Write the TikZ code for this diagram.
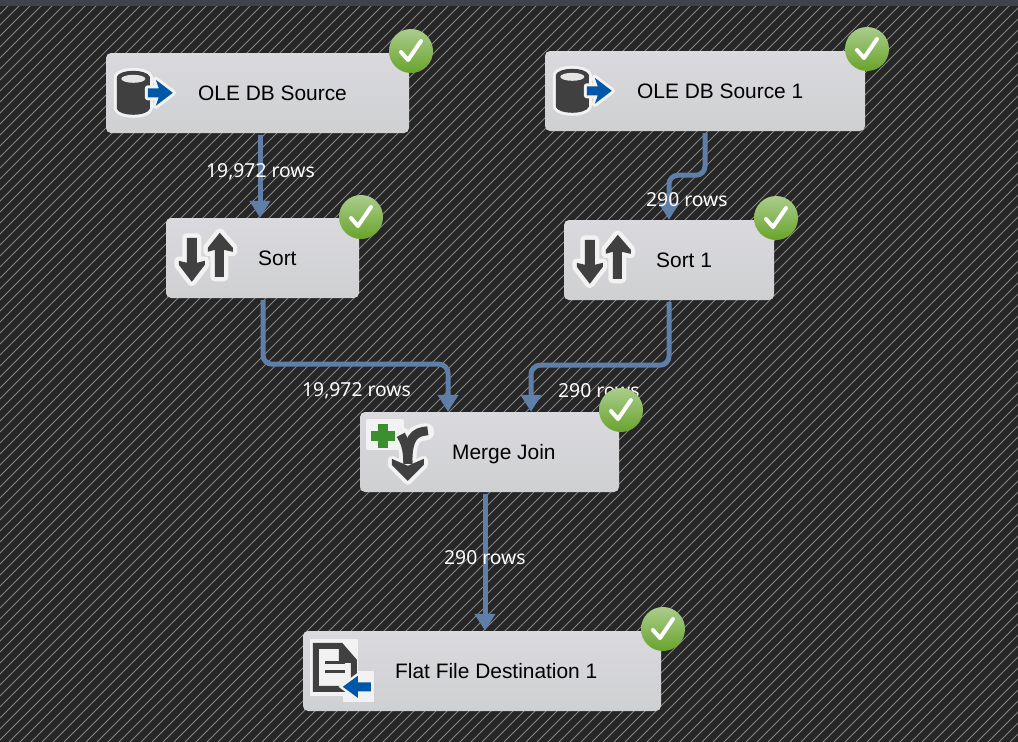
\documentclass[tikz,border=0pt]{standalone}
\usepackage{fontspec}
\setmainfont{Liberation Sans}
\newfontfamily\rowfont{Noto Sans}
\usetikzlibrary{arrows.meta}
\definecolor{bgdark}{HTML}{262626}
\definecolor{hatch}{HTML}{858585}
\definecolor{barc}{HTML}{3F444B}
\definecolor{flowc}{HTML}{5F7FA9}
\definecolor{icondark}{HTML}{404040}
\definecolor{iconblue}{HTML}{0057A8}
\definecolor{icongreen}{HTML}{3B8F2E}
\definecolor{halo}{HTML}{F2F2F2}
\definecolor{boxtop}{HTML}{DADADE}
\definecolor{boxbot}{HTML}{CFD0D2}
\definecolor{oktop}{HTML}{AACD8C}
\definecolor{okbot}{HTML}{69A32B}
\tikzset{
  x=1pt,y=-1pt,
  box/.style={draw=none,rounded corners=5pt,top color=boxtop,bottom color=boxbot,inner sep=0pt,minimum height=80pt},
  boxtext/.style={anchor=base west,inner sep=0pt,font=\fontsize{20.9}{24}\selectfont,text=black},
  rowtext/.style={anchor=base west,inner sep=0pt,font=\rowfont\fontsize{19.3}{24}\selectfont,text=white},
  flow/.style={draw=flowc,line width=5pt,rounded corners=9pt,-{Triangle[width=20pt,length=17pt]}},
  badge/.style={circle,minimum size=44pt,inner sep=0pt,top color=oktop,bottom color=okbot,draw=none,
    path picture={\draw[white,line width=4pt,line cap=round,line join=round]
      ([shift={(-10,1)}]path picture bounding box.center)--([shift={(-3,9)}]path picture bounding box.center)--([shift={(10,-10)}]path picture bounding box.center);}},
  dbicon/.pic={
    \path[draw=halo,fill=halo,line width=6pt,line join=round] (11,24) -- (11,56) .. controls (14,64) and (41,64) .. (44,56) -- (44,24) .. controls (41,16) and (14,16) .. (11,24) -- cycle;
    \path[fill=icondark] (11,24) -- (11,56) .. controls (14,64) and (41,64) .. (44,56) -- (44,24) .. controls (41,16) and (14,16) .. (11,24) -- cycle;
    \fill[white!80!gray] (27.5,26) ellipse (12 and 4);
    \path[draw=halo,fill=halo,line width=6pt,line join=round] (42,35.5) -- (53,35.5) -- (50,27) -- (67,40) -- (50,53) -- (53,44.5) -- (42,44.5) -- cycle;
    \fill[iconblue] (42,35.5) -- (53,35.5) -- (50,27) -- (67,40) -- (50,53) -- (53,44.5) -- (42,44.5) -- cycle;
  },
  sorticon/.pic={
    \path[draw=halo,fill=halo,line width=9pt,line join=round] (21,20) -- (31,20) -- (31,45) -- (39,43) -- (39,47) -- (26,64) -- (13,47) -- (13,43) -- (21,45) -- cycle;
    \path[draw=halo,fill=halo,line width=9pt,line join=round] (49,59) -- (58,59) -- (58,32) -- (67,34) -- (67,30) -- (54,15) -- (42,30) -- (42,34) -- (49,32) -- cycle;
    \fill[icondark] (21,20) -- (31,20) -- (31,45) -- (39,43) -- (39,47) -- (26,64) -- (13,47) -- (13,43) -- (21,45) -- cycle;
    \fill[icondark] (49,59) -- (58,59) -- (58,32) -- (67,34) -- (67,30) -- (54,15) -- (42,30) -- (42,34) -- (49,32) -- cycle;
  },
  mergeicon/.pic={
    \path[draw=halo,fill=halo,line width=4pt,line join=round] (8,9) rectangle (42,36);
    \path[draw=halo,line width=17pt,line cap=round,line join=round] (42,24) .. controls (46,30) and (48,36) .. (48,52);
    \path[draw=halo,line width=17pt,line cap=round,line join=round] (66,20) .. controls (54,21) and (48,26) .. (48,52);
    \path[draw=halo,fill=halo,line width=8pt,line join=round] (32,48) -- (48,56) -- (64,48) -- (64,53) -- (48,69) -- (32,53) -- cycle;
    \draw[icondark,line width=9pt] (41,23) .. controls (45,30) and (48,36) .. (48,52);
    \draw[icondark,line width=9pt] (68,19) .. controls (54,20) and (48,26) .. (48,52);
    \fill[icondark] (32,47) -- (48,54) -- (64,47) -- (64,53) -- (48,69) -- (32,53) -- cycle;
    \fill[icongreen] (18,12) rectangle (28,36);
    \fill[icongreen] (11,19) rectangle (35,29);
  },
  fileicon/.pic={
    \fill[halo] (7,8) rectangle (55,65);
    \fill[halo] (40,40) rectangle (71,71);
    \path[draw=icondark,fill=halo,line width=6pt,line join=miter] (13,15) -- (38,15) -- (51,30) -- (51,58) -- (13,58) -- cycle;
    \fill[icondark] (36,14) -- (54,32) -- (36,32) -- cycle;
    \fill[icondark] (22,30.5) rectangle (42,33.5);
    \fill[icondark] (22,39.5) rectangle (42,42.5);
    \path[draw=halo,fill=halo,line width=5pt,line join=miter] (68,51.5) -- (55,51.5) -- (55,45) -- (40,56) -- (55,67) -- (55,60.5) -- (68,60.5) -- cycle;
    \fill[iconblue] (68,51.5) -- (55,51.5) -- (55,45) -- (40,56) -- (55,67) -- (55,60.5) -- (68,60.5) -- cycle;
  }
}
\begin{document}
\begin{tikzpicture}
\useasboundingbox (0,0) rectangle (1018,742);
\fill[bgdark] (0,0) rectangle (1018,742);
\begin{scope}
\clip (0,0) rectangle (1018,742);
\foreach \k in {0,...,165}{
  \draw[hatch,line width=0.8pt] ({\k*11+3},0) -- ({\k*11+3-742},742);
}
\end{scope}
\fill[barc] (0,0) rectangle (1018,6);

% boxes
\node[box,minimum width=303pt] (src) at (257.5,93) {};
\node[box,minimum width=320pt] (srcb) at (705,91) {};
\node[box,minimum width=193pt] (sorta) at (262.5,258) {};
\node[box,minimum width=210pt] (sortb) at (669,260) {};
\node[box,minimum width=259pt] (merge) at (489.5,452) {};
\node[box,minimum width=358pt] (flat) at (482,671) {};

% icons
\pic at (src.north west) {dbicon};
\pic at (srcb.north west) {dbicon};
\pic at (sorta.north west) {sorticon};
\pic at (sortb.north west) {sorticon};
\pic at (merge.north west) {mergeicon};
\pic at (flat.north west) {fileicon};

% box texts
\node[boxtext] (srct) at (198,100) {OLE DB Source};
\node[boxtext] (srcbt) at (637,98) {OLE DB Source 1};
\node[boxtext] (sortat) at (258,265) {Sort};
\node[boxtext] (sortbt) at (656,267) {Sort 1};
\node[boxtext] (merget) at (452,459) {Merge Join};
\node[boxtext] (flatt) at (395,678) {Flat File Destination 1};

% connectors
\draw[flow] ([shift={(2.5,2)}]src.south) -- ([xshift=2.5pt]sorta.north -| src.south);
\draw[flow] ([shift={(0,2)}]srcb.south) -- ++(0,42) -| (sortb.north);
\draw[flow] ([shift={(0.5,2)}]sorta.south) -- ++(0,64) -| ([xshift=-41.5pt]merge.north);
\draw[flow] ([shift={(0,2)}]sortb.south) -- ++(0,63) -| ([xshift=41.5pt]merge.north);
\draw[flow] ([shift={(-4.5,2)}]merge.south) -- ([xshift=3pt]flat.north);

% row labels
\node[rowtext] (la) at (206,177) {19,972 rows};
\node[rowtext] (lb) at (646,206) {290 rows};
\node[rowtext] (lc) at (302,396) {19,972 rows};
\node[rowtext] (ld) at (558,397) {290 rows};
\node[rowtext] (le) at (444,564) {290 rows};

% badges
\node[badge] (ba) at (411,51) {};
\node[badge] (bb) at (867,49) {};
\node[badge] (bc) at (361,217) {};
\node[badge] (bd) at (776,218) {};
\node[badge] (be) at (621,410) {};
\node[badge] (bf) at (663,629) {};
\end{tikzpicture}
\end{document}
